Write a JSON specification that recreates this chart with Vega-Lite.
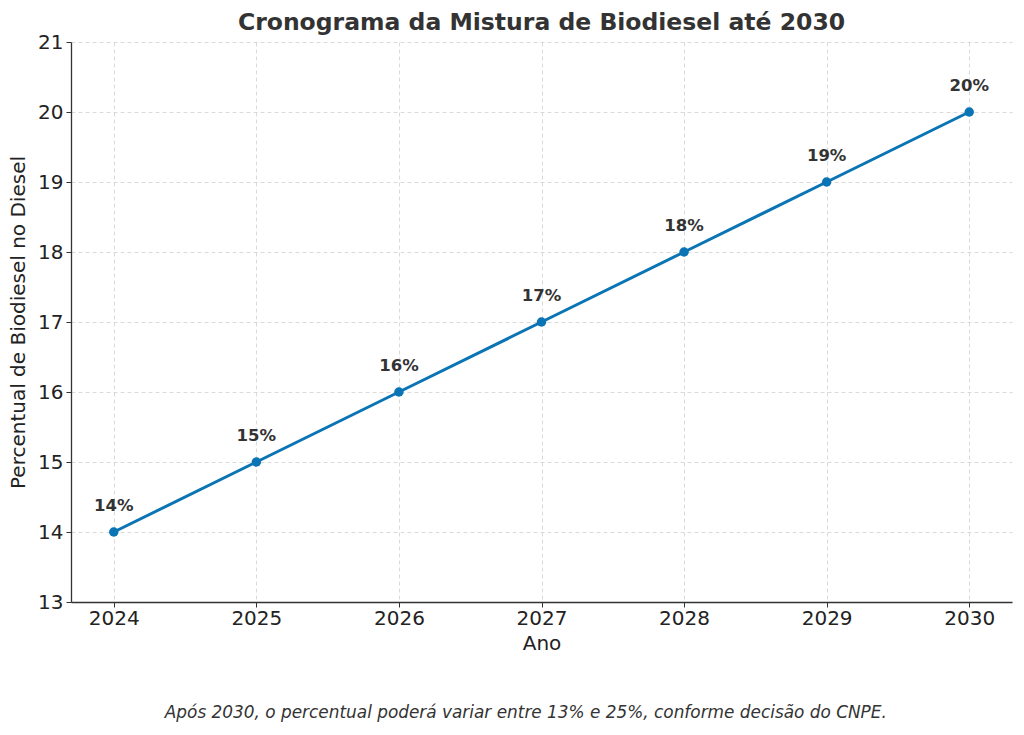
{
  "$schema": "https://vega.github.io/schema/vega-lite/v6.json",
  "width": 941,
  "height": 560,
  "autosize": {"type": "none"},
  "padding": {"left": 71, "top": 42, "right": 12, "bottom": 133},
  "background": "white",
  "config": {
    "font": "DejaVu Sans",
    "view": {"stroke": null}
  },
  "title": {
    "text": "Cronograma da Mistura de Biodiesel até 2030",
    "font": "DejaVu Sans",
    "fontSize": 23.5,
    "fontWeight": "bold",
    "color": "#333333",
    "anchor": "middle",
    "offset": -2
  },
  "data": {
    "values": [
      {"ano": 2024, "pct": 14, "label": "14%"},
      {"ano": 2025, "pct": 15, "label": "15%"},
      {"ano": 2026, "pct": 16, "label": "16%"},
      {"ano": 2027, "pct": 17, "label": "17%"},
      {"ano": 2028, "pct": 18, "label": "18%"},
      {"ano": 2029, "pct": 19, "label": "19%"},
      {"ano": 2030, "pct": 20, "label": "20%"}
    ]
  },
  "layer": [
    {
      "mark": {"type": "line", "color": "#0a74b4", "strokeWidth": 3},
      "encoding": {
        "x": {
          "field": "ano",
          "type": "quantitative",
          "scale": {"domain": [2023.7, 2030.3], "nice": false, "zero": false},
          "axis": {
            "title": "Ano",
            "values": [2024, 2025, 2026, 2027, 2028, 2029, 2030],
            "format": "d",
            "labelFontSize": 20,
            "titleFontSize": 20,
            "titleFontWeight": "normal",
            "labelColor": "#222222",
            "titleColor": "#222222",
            "domainColor": "#333333",
            "domainWidth": 1.3,
            "tickColor": "#333333",
            "tickSize": 5,
            "labelPadding": 1,
            "titlePadding": 5,
            "grid": true,
            "gridColor": "#d0d0d0",
            "gridDash": [4, 3],
            "gridWidth": 0.8
          }
        },
        "y": {
          "field": "pct",
          "type": "quantitative",
          "scale": {"domain": [13, 21], "nice": false, "zero": false},
          "axis": {
            "title": "Percentual de Biodiesel no Diesel",
            "values": [13, 14, 15, 16, 17, 18, 19, 20, 21],
            "format": "d",
            "labelFontSize": 20,
            "titleFontSize": 20,
            "titleFontWeight": "normal",
            "labelColor": "#222222",
            "titleColor": "#222222",
            "domainColor": "#333333",
            "domainWidth": 1.3,
            "tickColor": "#333333",
            "tickSize": 5,
            "labelPadding": 3,
            "titlePadding": 9,
            "grid": true,
            "gridColor": "#d0d0d0",
            "gridDash": [4, 3],
            "gridWidth": 0.8
          }
        }
      }
    },
    {
      "mark": {"type": "point", "filled": true, "opacity": 1, "color": "#0a74b4", "size": 90},
      "encoding": {
        "x": {"field": "ano", "type": "quantitative"},
        "y": {"field": "pct", "type": "quantitative"}
      }
    },
    {
      "mark": {"type": "text", "fontSize": 16.5, "fontWeight": "bold", "color": "#333333", "dy": -26, "baseline": "middle", "align": "center"},
      "encoding": {
        "x": {"field": "ano", "type": "quantitative"},
        "y": {"field": "pct", "type": "quantitative"},
        "text": {"field": "label"}
      }
    },
    {
      "data": {"values": [{"ano": 2026.89, "pct": 11.41, "nota": "Após 2030, o percentual poderá variar entre 13% e 25%, conforme decisão do CNPE."}]},
      "mark": {"type": "text", "fontSize": 16.9, "fontStyle": "italic", "color": "#333333", "align": "center", "baseline": "middle", "clip": false},
      "encoding": {
        "x": {"field": "ano", "type": "quantitative"},
        "y": {"field": "pct", "type": "quantitative"},
        "text": {"field": "nota"}
      }
    }
  ]
}
